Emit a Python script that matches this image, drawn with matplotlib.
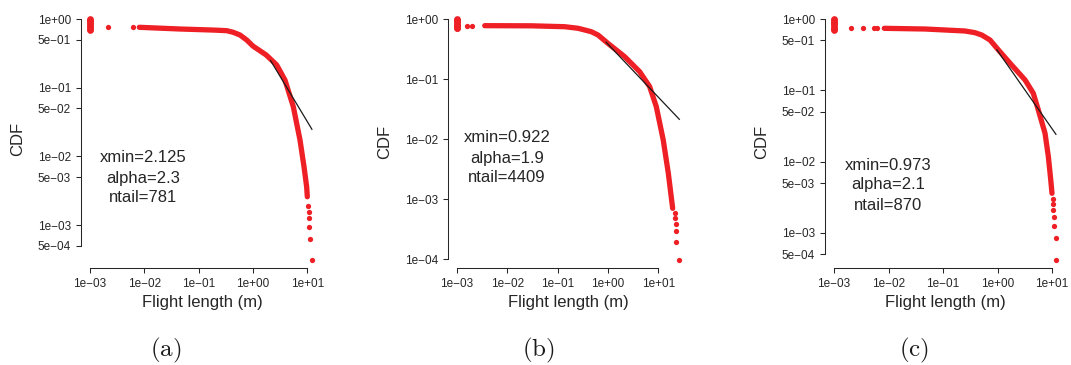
import matplotlib
matplotlib.use("Agg")
import matplotlib.pyplot as plt

plt.rcParams['font.family'] = ['Liberation Sans', 'DejaVu Sans']
plt.rcParams['mathtext.fontset'] = 'cm'

W, H = 1071, 365
RED = '#EE1F25'
INK = '#262626'

# ---- panel (a) ----
a_cluster_y = [1.0, 0.96, 0.92, 0.88, 0.84, 0.80, 0.76, 0.72, 0.70]
a_dots_x = [0.00217, 0.00626]
a_dots_y = [0.757, 0.757]
a_curve_x = [0.0081, 0.0454, 0.187, 0.329, 0.435, 0.578, 0.768, 1.0, 1.76, 2.74, 3.90, 5.55, 7.37, 8.73, 9.77, 10.05]
a_curve_y = [0.757, 0.715, 0.69, 0.676, 0.64, 0.585, 0.495, 0.404, 0.299, 0.214, 0.129, 0.0528, 0.0173, 0.00707, 0.00361, 0.00258]
a_tail_x = [10.5, 10.7, 10.8, 10.9, 11.3, 12.1]
a_tail_y = [0.00188, 0.00156, 0.00125, 0.00094, 0.000625, 0.000313]
a_fit_x = [2.125, 12.2]
a_fit_y = [0.247, 0.0248]
a_text = ['xmin=2.125', 'alpha=2.3', 'ntail=781']

# ---- panel (b) ----
b_cluster_y = [1.0, 0.96, 0.92, 0.88, 0.84, 0.80, 0.76, 0.72, 0.70]
b_dots_x = [0.00158, 0.00201]
b_dots_y = [0.774, 0.774]
b_curve_x = [0.00356, 0.030, 0.138, 0.255, 0.346, 0.468, 0.636, 1.0, 2.16, 4.29, 6.77, 9.17, 12.6, 15.9, 18.5, 19.4]
b_curve_y = [0.774, 0.77, 0.744, 0.70, 0.656, 0.614, 0.541, 0.393, 0.235, 0.132, 0.0745, 0.0346, 0.0096, 0.00268, 0.00096, 0.000699]
b_tail_x = [21.6, 21.9, 22.3, 22.7, 22.9, 26.3]
b_tail_y = [0.000584, 0.000486, 0.000389, 0.000292, 0.000195, 0.0000973]
b_fit_x = [0.922, 26.3]
b_fit_y = [0.41, 0.0213]
b_text = ['xmin=0.922', 'alpha=1.9', 'ntail=4409']

# ---- panel (c) ----
c_cluster_y = [1.0, 0.96, 0.92, 0.88, 0.84, 0.80, 0.76, 0.72, 0.70]
c_dots_x = [0.00205, 0.00345, 0.00548, 0.00622]
c_dots_y = [0.74, 0.74, 0.74, 0.74]
c_curve_x = [0.00837, 0.0468, 0.253, 0.386, 0.513, 0.728, 1.04, 1.82, 3.20, 4.54, 5.61, 7.45, 8.58, 9.49, 10.0]
c_curve_y = [0.74, 0.724, 0.679, 0.643, 0.597, 0.508, 0.368, 0.226, 0.140, 0.0908, 0.053, 0.025, 0.0117, 0.00553, 0.0036]
c_tail_x = [10.3, 10.4, 10.6, 10.7, 11.0, 11.8, 12.0]
c_tail_y = [0.00295, 0.00253, 0.00211, 0.00169, 0.00127, 0.000844, 0.000422]
c_fit_x = [0.973, 11.8]
c_fit_y = [0.37, 0.0242]
c_text = ['xmin=0.973', 'alpha=2.1', 'ntail=870']

yt_full = [1, 0.5, 0.1, 0.05, 0.01, 0.005, 0.001, 0.0005]
yl_full = ['1e+00', '5e\u221201', '1e\u221201', '5e\u221202', '1e\u221202', '5e\u221203', '1e\u221203', '5e\u221204']
yt_dec = [1, 0.1, 0.01, 0.001, 0.0001]
yl_dec = ['1e+00', '1e\u221201', '1e\u221202', '1e\u221203', '1e\u221204']
xt = [0.001, 0.01, 0.1, 1, 10]
xl = ['1e\u221203', '1e\u221202', '1e\u221201', '1e+00', '1e+01']

panels = [
    dict(cy=a_cluster_y, dx=a_dots_x, dy=a_dots_y, cx=a_curve_x, cyy=a_curve_y,
         tx=a_tail_x, ty=a_tail_y, fx=a_fit_x, fy=a_fit_y, txt=a_text,
         yt=yt_full, yl=yl_full, letter='(a)',
         box=(81, 12, 318, 268), cal=(90, 54.3, 19, 68.67),
         tpos=(143.5, 158), ylab=(18, 139), xlab=202, lpos=(165.5, 350)),
    dict(cy=b_cluster_y, dx=b_dots_x, dy=b_dots_y, cx=b_curve_x, cyy=b_curve_y,
         tx=b_tail_x, ty=b_tail_y, fx=b_fit_x, fy=b_fit_y, txt=b_text,
         yt=yt_dec, yl=yl_dec, letter='(b)',
         box=(448, 12, 685, 268), cal=(457, 50.3, 19, 60.0),
         tpos=(507, 138), ylab=(385, 142), xlab=568, lpos=(538, 350)),
    dict(cy=c_cluster_y, dx=c_dots_x, dy=c_dots_y, cx=c_curve_x, cyy=c_curve_y,
         tx=c_tail_x, ty=c_tail_y, fx=c_fit_x, fy=c_fit_y, txt=c_text,
         yt=yt_full, yl=yl_full, letter='(c)',
         box=(825, 12, 1062, 268), cal=(834, 54.5, 19, 71.33),
         tpos=(888, 165), ylab=(762, 142), xlab=945, lpos=(914, 350)),
]

fig = plt.figure(figsize=(W / 100, H / 100), dpi=100)

for p in panels:
    left, top, right, bottom = p['box']
    x0, dxp, y0, dyp = p['cal']
    ax = fig.add_axes([left / W, 1 - bottom / H, (right - left) / W, (bottom - top) / H])
    ax.set_xscale('log')
    ax.set_yscale('log')
    ax.set_xlim(10 ** (-3 + (left - x0) / dxp), 10 ** (-3 + (right - x0) / dxp))
    ax.set_ylim(10 ** (-(bottom - y0) / dyp), 10 ** (-(top - y0) / dyp))

    # points
    ax.plot([0.001] * len(p['cy']), p['cy'], color=RED, lw=3.6, marker='o', ms=3.8,
            solid_capstyle='round', clip_on=False)
    ax.plot(p['dx'], p['dy'], 'o', color=RED, ms=3.8, mew=0, clip_on=False)
    ax.plot(p['cx'], p['cyy'], color=RED, lw=3.8, solid_capstyle='round',
            solid_joinstyle='round', clip_on=False)
    ax.plot(p['tx'], p['ty'], 'o', color=RED, ms=3.8, mew=0, clip_on=False)
    ax.plot(p['fx'], p['fy'], color='#1a1a1a', lw=0.9, clip_on=False)

    for s in ['top', 'right']:
        ax.spines[s].set_visible(False)
    for s in ['left', 'bottom']:
        ax.spines[s].set_color(INK)
        ax.spines[s].set_linewidth(0.75)
    ax.spines['left'].set_bounds(min(p['yt']), max(p['yt']))
    ax.spines['bottom'].set_bounds(0.001, 10)
    ax.set_yticks(p['yt'])
    ax.set_yticklabels(p['yl'])
    ax.set_xticks(xt)
    ax.set_xticklabels(xl)
    ax.minorticks_off()
    ax.tick_params(direction='out', length=3.6, width=0.75, color=INK,
                   labelcolor=INK, labelsize=8.5, pad=3.6)
    ax.patch.set_visible(False)

    tx, ty = p['tpos']
    for i, line in enumerate(p['txt']):
        fig.text(tx / W, 1 - (ty + 20 * i) / H, line, ha='center', va='center',
                 fontsize=12, color=INK)
    fig.text(p['ylab'][0] / W, 1 - p['ylab'][1] / H, 'CDF', rotation=90,
             ha='center', va='center', fontsize=12, color=INK)
    fig.text(p['xlab'] / W, 1 - 302 / H, 'Flight length (m)', ha='center',
             va='center', fontsize=12, color=INK)
    fig.text(p['lpos'][0] / W, 1 - p['lpos'][1] / H, r'$\mathrm{' + p['letter'] + '}$',
             ha='center', va='center', fontsize=18, color='#1a1a1a')

fig.savefig('out.png', dpi=100)
